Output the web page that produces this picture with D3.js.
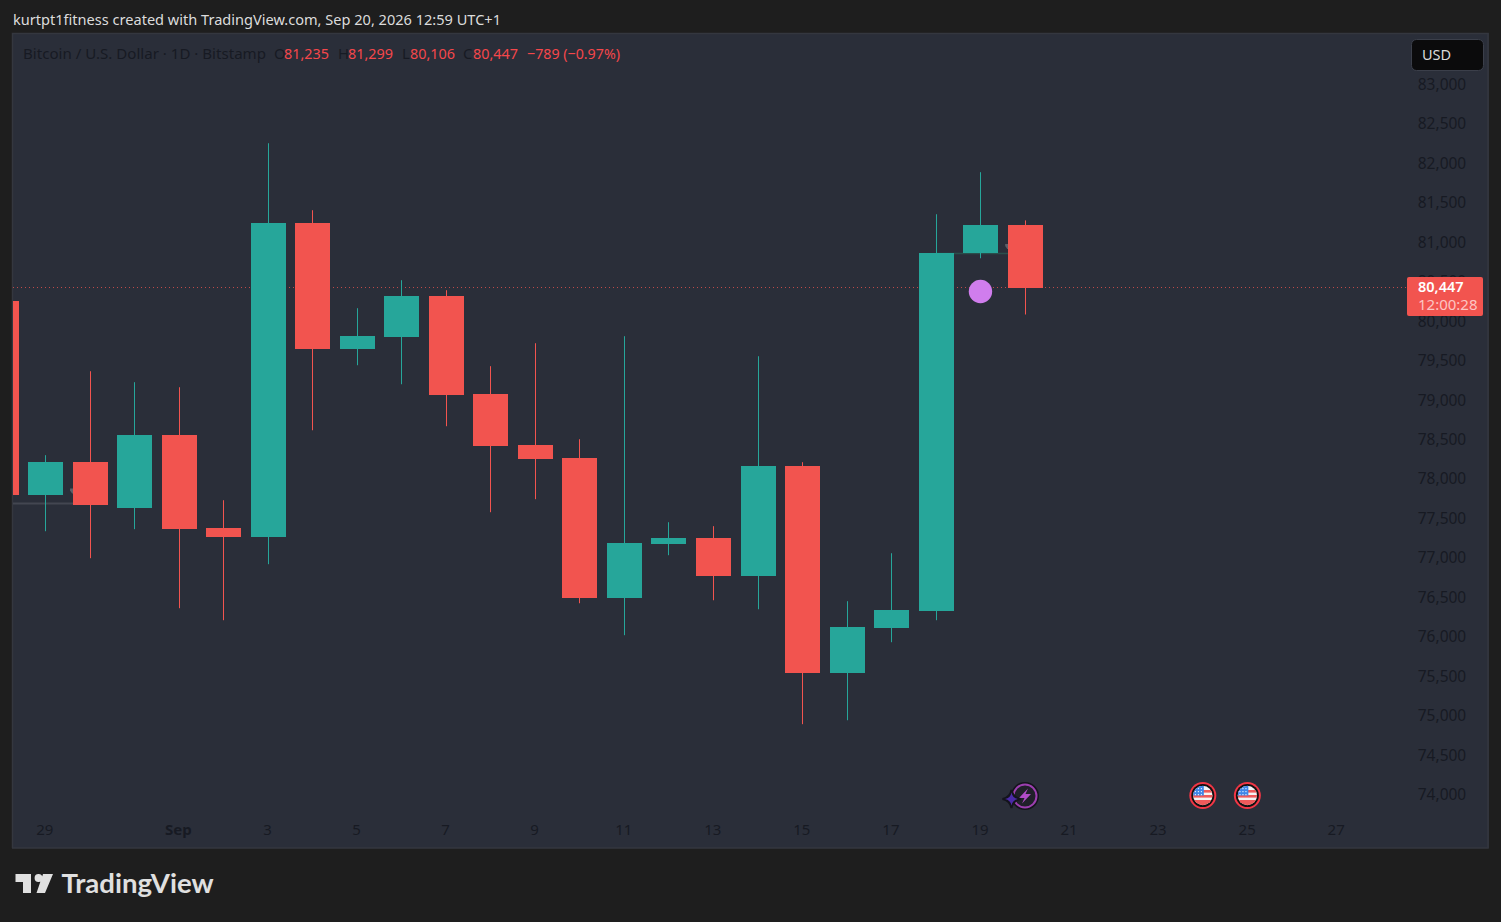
<!DOCTYPE html>
<html><head><meta charset="utf-8">
<style>html,body{margin:0;padding:0;background:#1e1e1e;overflow:hidden}svg{display:block}</style>
<script src="https://cdn.jsdelivr.net/npm/d3@7"></script>
</head><body>
<script>
const dates=["2026-08-28","2026-08-29","2026-08-30","2026-08-31","2026-09-01","2026-09-02","2026-09-03","2026-09-04","2026-09-05","2026-09-06","2026-09-07","2026-09-08","2026-09-09","2026-09-10","2026-09-11","2026-09-12","2026-09-13","2026-09-14","2026-09-15","2026-09-16","2026-09-17","2026-09-18","2026-09-19","2026-09-20"];
const opens =[80275,77815,78234,77651,78576,77397,77283,81263,79666,79818,80338,79096,78450,78285,76510,77194,77270,76789,78183,75559,76130,76345,80883,81235];
const closes=[77815,78234,77689,78576,77385,77283,81263,79666,79831,80338,79083,78437,78272,76510,77207,77270,76789,78183,75559,76142,76358,80883,81238,80447];
const highs =[80600,78323,79387,79248,79184,77752,82277,81428,80186,80541,80414,79451,79742,78525,79831,77473,77423,79577,78234,76472,77080,81377,81910,81299];
const lows  =[77700,77359,77017,77385,76383,76231,76941,78639,79463,79222,78690,77600,77765,76446,76041,77055,76484,76370,74913,74963,75952,76231,80819,80106];
const priceTicks=[74000,74500,75000,75500,76000,76500,77000,77500,78000,78500,79000,79500,80000,80500,81000,81500,82000,82500,83000];
const timeTickDates=["2026-08-29","2026-09-01","2026-09-03","2026-09-05","2026-09-07","2026-09-09","2026-09-11","2026-09-13","2026-09-15","2026-09-17","2026-09-19","2026-09-21","2026-09-23","2026-09-25","2026-09-27"];
const eventDates=["2026-09-24","2026-09-25"];
const boltDate="2026-09-20";
const lastClose=80447, countdown="12:00:28";
const refLevels=[{price:77720,from:"2026-08-27",to:"2026-08-30",color:"#434651",w:2},{price:80883,from:"2026-09-18",to:"2026-09-20",color:"#2a4f4c",w:1.5}];
const tinyMarks=[{t:"2026-08-30",price:77900,dx:-17.5},{t:"2026-09-20",price:81000,dx:-17.5}];
const legendHead="Bitcoin / U.S. Dollar · 1D · Bitstamp";
const ohlcLabels=[["O","81,235"],["H","81,299"],["L","80,106"],["C","80,447"]];
const changeLabel="−789 (−0.97%)";

const W=1501,H=922,FONT="'Noto Sans',Roboto,sans-serif";
const red="#f2544f",green="#26a69a",axisInk="#171a23",bg="#2a2e39";
const parse=d3.utcParse("%Y-%m-%d");
const x=d3.scaleUtc().domain([parse("2026-08-29"),parse("2026-09-20")]).range([46.04,1025.7]);
const y=d3.scaleLinear().domain([74000,83000]).range([796.2,86.2]);
const svg=d3.select("body").append("svg").attr("width",W).attr("height",H);
svg.append("rect").attr("width",W).attr("height",H).attr("fill","#1e1e1e");
svg.append("rect").attr("x",12).attr("y",33).attr("width",1477).attr("height",815).attr("fill",bg);
svg.append("path").attr("d","M12.5 848V33.5H1488V848H12").attr("fill","none").attr("stroke","#34373f").attr("stroke-width",1.5);
svg.append("defs").append("clipPath").attr("id","pane").append("rect").attr("x",13).attr("y",35).attr("width",1394).attr("height",812);

svg.append("text").attr("x",13).attr("y",24.5).attr("font-family",FONT).attr("font-size",14.5).attr("fill","#dcdcdc").attr("textLength",488).attr("lengthAdjust","spacingAndGlyphs")
  .text("kurtpt1fitness created with TradingView.com, Sep 20, 2026 12:59 UTC+1");

const pane=svg.append("g").attr("clip-path","url(#pane)");
pane.append("line").attr("x1",13).attr("x2",1407).attr("y1",287.5).attr("y2",287.5).attr("stroke",red).attr("stroke-opacity",.75).attr("stroke-dasharray","1 3");
pane.selectAll("line.ref").data(refLevels).join("line").attr("class","ref")
  .attr("x1",d=>x(parse(d.from))).attr("x2",d=>x(parse(d.to)))
  .attr("y1",d=>Math.round(y(d.price))+.5).attr("y2",d=>Math.round(y(d.price))+.5)
  .attr("stroke",d=>d.color).attr("stroke-width",d=>d.w);
pane.selectAll("path.tiny").data(tinyMarks).join("path").attr("class","tiny")
  .attr("transform",d=>`translate(${x(parse(d.t))+d.dx},${y(d.price)})`)
  .attr("d","M0 0H-3V2L-1 5H0Z").attr("fill","#5d6069");

const candles=dates.map((d,i)=>({t:parse(d),o:opens[i],h:highs[i],l:lows[i],c:closes[i]}));
const col=d=>d.c>=d.o?green:red;
const left=d=>Math.floor(x(d.t)-17.5);
pane.selectAll("rect.wick").data(candles).join("rect").attr("class","wick")
  .attr("x",d=>left(d)+17).attr("width",1).attr("y",d=>y(d.h)).attr("height",d=>y(d.l)-y(d.h)).attr("fill",col);
pane.selectAll("rect.body").data(candles).join("rect").attr("class","body")
  .attr("x",left).attr("width",35)
  .attr("y",d=>Math.round(y(Math.max(d.o,d.c))))
  .attr("height",d=>Math.max(1,Math.round(y(Math.min(d.o,d.c)))-Math.round(y(Math.max(d.o,d.c)))))
  .attr("fill",col);
pane.append("circle").attr("cx",x(parse("2026-09-19"))-.7).attr("cy",291.5).attr("r",11.7).attr("fill","#d07ded");

const yT=svg.append("g");
yT.selectAll("text").data(priceTicks).join("text").attr("x",1442).attr("y",d=>y(d)+3.8)
  .attr("text-anchor","middle").attr("font-family",FONT).attr("font-size",15.5).attr("fill",axisInk)
  .text(d=>d3.format(",")(d));
const xT=svg.append("g");
xT.selectAll("text").data(timeTickDates).join("text").attr("x",d=>x(parse(d))-1.2).attr("y",834.5)
  .attr("text-anchor","middle").attr("font-family",FONT).attr("font-size",15).attr("fill",axisInk)
  .attr("font-weight",d=>d.endsWith("09-01")?700:400)
  .text(d=>d.endsWith("09-01")?"Sep":String(+d.slice(8)));

// legend
svg.append("text").attr("x",23).attr("y",59).attr("font-family",FONT).attr("font-size",15).attr("fill",axisInk).attr("textLength",243).attr("lengthAdjust","spacingAndGlyphs").text(legendHead);
const lx=[[274,284],[338,348],[402,410],[463,473]];
ohlcLabels.forEach((p,i)=>{
  svg.append("text").attr("x",lx[i][0]).attr("y",59).attr("font-family",FONT).attr("font-size",15).attr("fill",axisInk).text(p[0]);
  svg.append("text").attr("x",lx[i][1]).attr("y",59).attr("font-family",FONT).attr("font-size",15).attr("fill","#f5474b").attr("textLength",45).attr("lengthAdjust","spacingAndGlyphs").text(p[1]);
});
svg.append("text").attr("x",527).attr("y",59).attr("font-family",FONT).attr("font-size",15).attr("fill","#f5474b").attr("textLength",93).attr("lengthAdjust","spacingAndGlyphs").text(changeLabel);

// USD
svg.append("rect").attr("x",1411.5).attr("y",39.5).attr("width",72).attr("height",31).attr("rx",5).attr("fill","#0b0b0c").attr("stroke","#3b3f4a");
svg.append("text").attr("x",1422).attr("y",60).attr("font-family",FONT).attr("font-size",14.5).attr("fill","#dbdbdb").text("USD");

// last price tag
svg.append("rect").attr("x",1407).attr("y",277).attr("width",76).attr("height",39).attr("rx",2).attr("fill",red);
svg.append("text").attr("x",1418).attr("y",292).attr("font-family",FONT).attr("font-weight",600).attr("font-size",14.5).attr("fill","#fff").text(d3.format(",")(lastClose));
svg.append("text").attr("x",1418).attr("y",310).attr("font-family",FONT).attr("font-size",15).attr("fill","#fdc5c3").text(countdown);

// event icons
const bx=x(parse(boltDate))-.7, by=796;
const bolt=svg.append("g").attr("transform",`translate(${bx},${by})`);
bolt.append("circle").attr("r",14).attr("fill","#14141c");
bolt.append("circle").attr("r",11.5).attr("fill","#20202a").attr("stroke","#9c3fb0").attr("stroke-width",2);
bolt.append("path").attr("d","M3-7.5 L-6 2 H-0.5 L-3 7.5 L6-2 H0.5Z").attr("fill","#b04cc7");
const st=svg.append("g").attr("transform",`translate(${bx-13.5},${by+3})`);
st.append("path").attr("d","M0-9 Q1.5-1.5 9 0 Q1.5 1.5 0 9 Q-1.5 1.5-9 0 Q-1.5-1.5 0-9Z").attr("fill","#14141c").attr("stroke","#14141c").attr("stroke-width",2);
st.append("path").attr("d","M0-6.5 Q1-1 6.5 0 Q1 1 0 6.5 Q-1 1-6.5 0 Q-1-1 0-6.5Z").attr("fill","#4b2aa8");

const flags=svg.selectAll("g.flag").data(eventDates).join("g").attr("class","flag")
  .attr("transform",d=>`translate(${x(parse(d))-1},795.5)`);
flags.append("circle").attr("r",13.5).attr("fill","#f23645");
flags.append("circle").attr("r",11.5).attr("fill","#111");
const cid=(d,i)=>"fc"+i;
flags.append("clipPath").attr("id",cid).append("circle").attr("r",9.7);
const fg=flags.append("g").attr("clip-path",(d,i)=>`url(#${cid(d,i)})`);
fg.append("rect").attr("x",-10).attr("y",-10).attr("width",20).attr("height",20).attr("fill","#f4f4f4");
[-5.5,-0.5,4.5].forEach(v=>fg.append("rect").attr("x",-10).attr("y",v).attr("width",20).attr("height",2.6).attr("fill","#ef5a5a"));
fg.append("rect").attr("x",-10).attr("y",5.5).attr("width",20).attr("height",5).attr("fill","#ef5a5a");
fg.append("rect").attr("x",-10).attr("y",-10).attr("width",11).attr("height",10).attr("fill","#3f86e8");
[-7.5,-4.5,-1.5].forEach(a=>[-8,-5,-2].forEach(b=>fg.append("rect").attr("x",b).attr("y",a).attr("width",1.2).attr("height",1.2).attr("fill","#d8e8ff")));

// logo
svg.append("path").attr("fill","#e0e0e0")
  .attr("d","M15.5 874H31V893H23V882H15.5ZM42.4 878a3.9 3.9 0 1 1-7.8 0a3.9 3.9 0 1 1 7.8 0ZM43 874H53L45 893H36.5Z");
svg.append("text").attr("x",61.5).attr("y",893).attr("font-family","Lato,Inter,sans-serif").attr("font-weight",700).attr("font-size",27).attr("fill","#e0e0e0").attr("textLength",152).attr("lengthAdjust","spacingAndGlyphs").text("TradingView");
</script>
</body></html>
